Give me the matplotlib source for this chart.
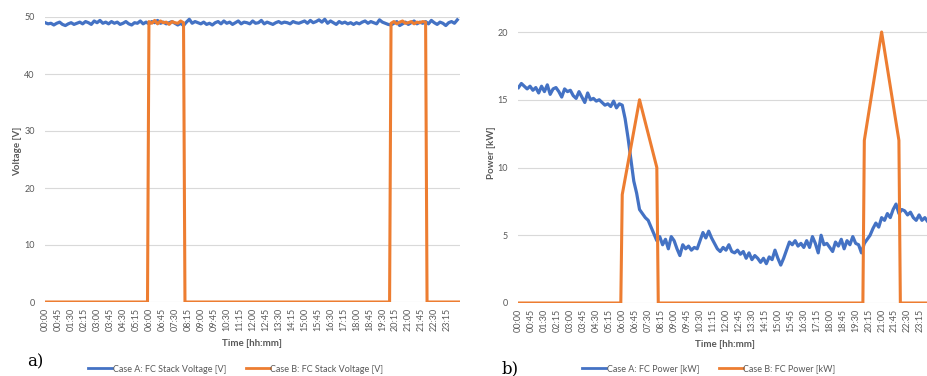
import numpy as np
import matplotlib
matplotlib.use("Agg")
import matplotlib.pyplot as plt
from matplotlib.lines import Line2D

BLUE = "#4472C4"
ORANGE = "#ED7D31"
GRAY = "#595959"
plt.rcParams['font.family'] = ['Lato', 'DejaVu Sans']

# Case A, sampled every 10 min from 00:00 to 23:50
voltage_a = [
    49.0, 48.8, 48.9, 48.6, 48.9, 49.1, 48.7, 48.5, 48.8, 49.0, 48.7, 48.9,
    49.1, 48.8, 49.2, 49.0, 48.7, 49.3, 49.0, 49.4, 48.9, 49.1, 48.8, 49.2,
    48.9, 49.1, 48.7, 48.9, 49.2, 48.8, 48.6, 49.0, 48.9, 49.3, 48.8, 49.1,
    48.8, 49.2, 49.0, 49.4, 48.9, 49.1, 48.8, 49.0, 49.2, 48.9, 48.6, 48.9,
    48.5, 49.1, 49.6, 48.9, 49.2, 49.0, 48.8, 49.1, 48.7, 48.9, 48.6, 49.0,
    49.2, 48.8, 49.3, 48.9, 49.1, 48.7, 49.0, 49.3, 48.8, 49.1, 49.0, 48.8,
    49.3, 48.9, 49.0, 49.4, 48.8, 49.1, 48.9, 48.7, 49.0, 49.2, 48.9, 49.1,
    49.0, 48.8, 49.2, 49.0, 48.9, 49.1, 49.3, 48.9, 49.4, 49.0, 49.2, 49.5,
    49.1, 49.6, 48.9, 49.3, 49.0, 48.7, 49.2, 48.9, 49.1, 48.8, 49.0, 48.7,
    49.0, 48.8, 49.1, 49.3, 48.9, 49.2, 49.0, 48.8, 49.5, 49.1, 48.9, 48.7,
    48.6, 48.9, 49.2, 48.5, 48.8, 49.1, 48.7, 49.0, 49.3, 48.8, 49.1, 48.9,
    49.2, 48.8, 49.4, 49.0, 48.7, 49.1, 48.9, 48.5, 49.0, 49.2, 48.9, 49.5,
]
power_a = [
    15.9, 16.2, 16.0, 15.8, 16.0, 15.7, 15.9, 15.5, 16.0, 15.6, 16.1, 15.4,
    15.8, 15.9, 15.6, 15.2, 15.8, 15.6, 15.7, 15.3, 15.1, 15.6, 15.2, 14.8,
    15.5, 15.0, 15.1, 14.9, 15.0, 14.8, 14.6, 14.7, 14.5, 14.9, 14.4, 14.7,
    14.6, 13.6, 12.2, 10.6, 9.0, 8.1, 6.9, 6.6, 6.3, 6.1, 5.6, 5.1,
    4.6, 4.9, 4.3, 4.7, 4.0, 4.9, 4.6, 4.0, 3.5, 4.3, 4.0, 4.2,
    3.9, 4.1, 4.0, 4.6, 5.2, 4.8, 5.3, 4.8, 4.4, 4.0, 3.8, 4.1,
    3.9, 4.3, 3.8, 3.7, 3.9, 3.6, 3.8, 3.3, 3.7, 3.2, 3.5, 3.3,
    3.0, 3.3, 2.9, 3.4, 3.2, 3.9, 3.3, 2.8, 3.3, 3.9, 4.5, 4.3,
    4.6, 4.2, 4.4, 4.1, 4.6, 4.1, 4.9, 4.4, 3.7, 5.0, 4.3, 4.4,
    4.1, 3.8, 4.5, 4.2, 4.7, 4.0, 4.6, 4.3, 4.9, 4.4, 4.3, 3.7,
    4.4, 4.7, 5.0, 5.5, 5.9, 5.6, 6.3, 6.1, 6.6, 6.3, 6.9, 7.3,
    6.6, 6.9, 6.8, 6.5, 6.7, 6.3, 6.1, 6.5, 6.1, 6.3, 6.0, 6.2,
]

# Case B
voltage_b_time = ["00:00", "05:55", "06:00", "06:10", "06:20", "06:30", "06:40", "06:50",
                  "07:00", "07:10", "07:20", "07:30", "07:40", "07:50", "08:00", "08:05",
                  "19:55", "20:00", "20:10", "20:20", "20:30", "20:40", "20:50", "21:00",
                  "21:10", "21:20", "21:30", "21:40", "21:50", "22:00", "22:05", "23:55"]
voltage_b = [0, 0, 49.2, 48.9, 49.4, 48.8, 49.3, 49.0,
             49.1, 48.7, 49.2, 49.0, 48.9, 49.3, 49.0, 0,
             0, 48.9, 49.2, 48.8, 49.1, 49.3, 48.9, 49.0,
             49.2, 48.8, 49.1, 49.0, 49.2, 49.1, 0, 0]
power_b_time = ["00:00", "05:55", "06:00", "07:00", "08:00", "08:05",
                "19:55", "20:00", "21:00", "22:00", "22:05", "23:55"]
power_b = [0, 0, 8, 15, 10, 0, 0, 12, 20, 12, 0, 0]

tick_labels = [f"{m // 60:02d}:{m % 60:02d}" for m in range(0, 24 * 60, 45)]


def hours(labels):
    return [int(s[:2]) + int(s[3:]) / 60 for s in labels]


t_a = np.arange(len(power_a)) / 6.0

fig = plt.figure(figsize=(9.27, 3.76), dpi=100)
W, H = 927, 376
ax1 = fig.add_axes([44.5 / W, 1 - 302 / H, 415 / W, 285 / H])
ax2 = fig.add_axes([517.8 / W, 1 - 303 / H, 415 / W, 338.75 / H])


def style(ax, ylabel, yticks):
    for s in ax.spines.values():
        s.set_visible(False)
    ax.set_xlim(-0.04, 23.96)
    ax.set_xticks(hours(tick_labels))
    ax.set_xticklabels(tick_labels, rotation=90, fontsize=6.5, color=GRAY)
    ax.set_yticks(yticks)
    ax.tick_params(axis='both', length=0, labelsize=6.5, labelcolor=GRAY)
    ax.tick_params(axis='y', pad=7)
    ax.tick_params(axis='x', pad=4)
    ax.grid(axis='y', color='#d9d9d9', lw=0.8)
    ax.set_axisbelow(True)
    ax.set_xlabel("Time [hh:mm]", fontsize=7, fontweight='bold', color=GRAY)
    ax.set_ylabel(ylabel, fontsize=7, fontweight='bold', color=GRAY)


style(ax1, "Voltage [V]", [0, 10, 20, 30, 40, 50])
ax1.set_ylim(0, 50)
ax1.plot(t_a, voltage_a, color=BLUE, lw=2.3)
ax1.plot(hours(voltage_b_time), voltage_b, color=ORANGE, lw=2.2)
ax1.xaxis.set_label_coords(0.5, -0.13)
ax1.yaxis.set_label_coords(-22 / 415, 0.53)

style(ax2, "Power [kW]", [0, 5, 10, 15, 20])
ax2.set_ylim(0, 25)
ax2.plot(t_a, power_a, color=BLUE, lw=2.3)
ax2.plot(hours(power_b_time), power_b, color=ORANGE, lw=2.2)
ax2.xaxis.set_label_coords(0.5, -37 / 338.75)
ax2.yaxis.set_label_coords(-22 / 415, 150 / 338.75)

handles = [Line2D([], [], color=BLUE, lw=2.0), Line2D([], [], color=ORANGE, lw=2.0)]
leg_kw = dict(loc='center', ncol=2, frameon=False, fontsize=6.5, handlelength=2.6,
              handletextpad=0.1, columnspacing=2.2, labelcolor=GRAY)
fig.legend(handles, ["Case A: FC Stack Voltage [V]", "Case B: FC Stack Voltage [V]"],
           bbox_to_anchor=(236 / W, 1 - 369 / H), **leg_kw)
fig.legend(handles, ["Case A: FC Power [kW]", "Case B: FC Power [kW]"],
           bbox_to_anchor=(709 / W, 1 - 369 / H), **leg_kw)

fig.text(27 / W, 1 - 362 / H, "a)", family='DejaVu Serif', fontsize=12, ha='left', va='center')
fig.text(502 / W, 1 - 369 / H, "b)", family='DejaVu Serif', fontsize=12, ha='left', va='center')

fig.savefig("out.png", dpi=100)
